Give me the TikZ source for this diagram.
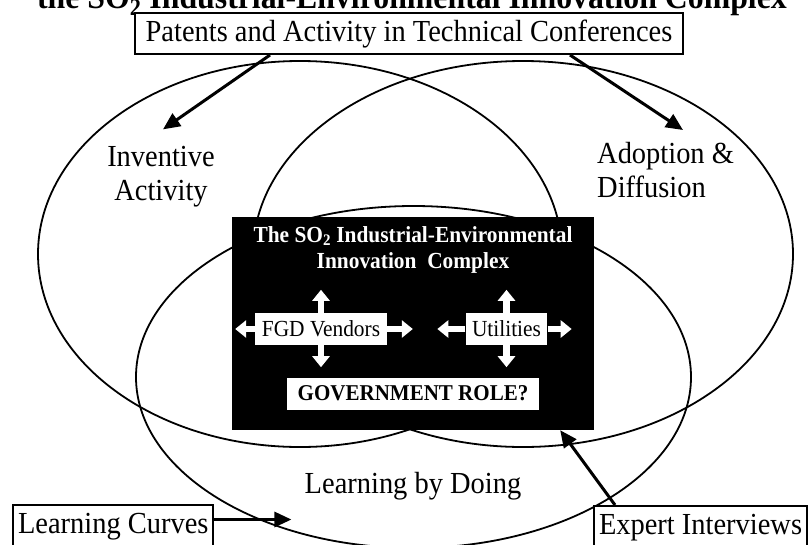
\documentclass[tikz,border=0pt]{standalone}
\usepackage{fontspec}
\setmainfont{Liberation Serif}[FakeStretch=0.93]
\usetikzlibrary{arrows.meta,positioning,calc}
\tikzset{
  ring/.style={draw=black,line width=1.8pt},
  src/.style={rectangle,draw=black,fill=white,line width=2pt,inner xsep=5pt,inner ysep=7pt,
              text height=21pt,text depth=6pt,font=\fontsize{30.6}{34}\selectfont},
  lbl/.style={inner sep=0pt,font=\fontsize{30.6}{34}\selectfont},
  core/.style={rectangle,fill=black,minimum width=362pt,minimum height=213pt,inner sep=0pt},
  actor/.style={rectangle,fill=white,inner xsep=6.5pt,inner ysep=0pt,minimum height=32pt,
                font=\fontsize{23}{26}\selectfont},
  fl/.style={-{Triangle[length=17pt,width=15pt]},line width=3pt},
  wfl/.style={-{Triangle[length=11pt,width=17pt]},line width=6.5pt,draw=white},
}
\begin{document}
\begin{tikzpicture}[x=1pt,y=-1pt]
\useasboundingbox (0,0) rectangle (808,544);
\clip (0,0) rectangle (808,544);
\draw[ring] (300,254) ellipse [x radius=262pt,y radius=193pt];
\draw[ring] (523,254) ellipse [x radius=270pt,y radius=193pt];
\draw[ring] (413.5,377) ellipse [x radius=277.5pt,y radius=171pt];
\node[anchor=base,inner sep=0pt,font=\fontsize{34.2}{38}\selectfont\bfseries] (ttl) at (412,8)
  {the SO\textsubscript{2} Industrial-Environmental Innovation Complex};
\node[src,anchor=north,minimum width=548pt] (pat) at (409,12) {Patents and Activity in Technical Conferences};
\node[src,anchor=north west] (lc) at (12,504) {Learning Curves};
\node[src,anchor=north west] (ei) at (593,505) {Expert Interviews};
\node[lbl,align=center] (inv) at (161,177) {Inventive\\Activity};
\node[lbl,align=left,anchor=north west] (ado) at (597,142) {Adoption \&\\Diffusion};
\node[lbl,anchor=base] (lbd) at (413,493) {Learning by Doing};
\node[core] (cx) at (413,323.5) {};
\node[anchor=north,align=center,inner sep=0pt,text=white,font=\fontsize{23}{26}\selectfont\bfseries] (cxt)
  at (413,226) {The SO\textsubscript{2} Industrial-Environmental\\Innovation\ \ Complex};
\node[actor] (fgd) at (321,329) {FGD Vendors};
\node[actor] (utl) at (506.5,329) {Utilities};
\node[actor,inner xsep=11pt,font=\fontsize{22.6}{26}\selectfont\bfseries] (gov) at (413,393.5) {GOVERNMENT ROLE?};
\foreach \n/\a/\dx/\dy in {fgd/north/0/-23,fgd/south/0/22,fgd/west/-20/0,fgd/east/26/0,
                           utl/north/0/-23,utl/south/0/22,utl/west/-28/0,utl/east/24/0}
  \draw[wfl] (\n.\a) -- ++(\dx,\dy);
\draw[fl] ([xshift=-139pt]pat.south) -- ([xshift=2pt,yshift=17pt]inv.north);
\draw[fl] ([xshift=161pt]pat.south) -- ([xshift=86pt,yshift=12pt]ado.north west);
\draw[fl] ([yshift=6pt]lc.east) -- ++(77,0);
\draw[fl] ([xshift=22pt]ei.north west) -- ([xshift=-34pt]cx.south east);
\end{tikzpicture}
\end{document}
